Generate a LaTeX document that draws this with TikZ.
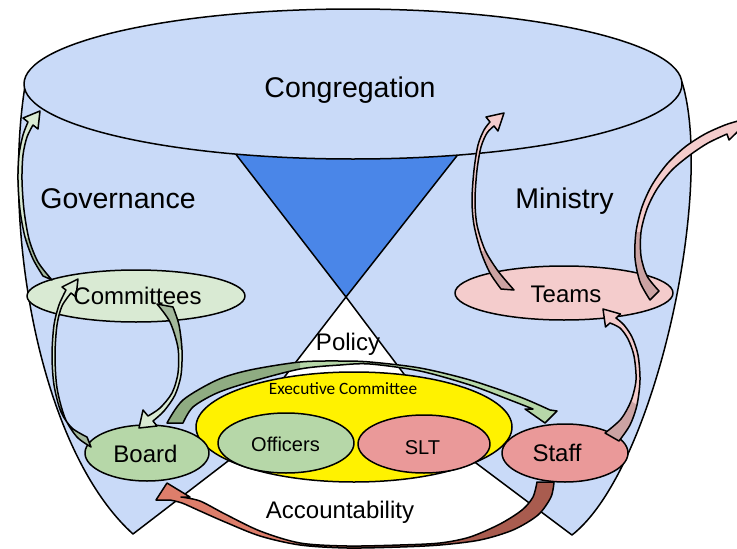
\documentclass[tikz,border=0pt]{standalone}
\usepackage{fontspec}
\setmainfont{Liberation Sans}
\newfontfamily\carlito{Carlito}
\usetikzlibrary{shapes.geometric}
\definecolor{bodyblue}{HTML}{C9DAF8}
\definecolor{triblue}{HTML}{4A86E8}
\definecolor{lgreen}{HTML}{D9EAD3}
\definecolor{mgreen}{HTML}{B6D7A8}
\definecolor{dgreen}{HTML}{8FAC82}
\definecolor{ggreen}{HTML}{A3B89C}
\definecolor{lpink}{HTML}{F4CCCC}
\definecolor{dpink}{HTML}{CBA3A3}
\definecolor{mred}{HTML}{EA9999}
\definecolor{lred}{HTML}{DD7E6B}
\definecolor{dred}{HTML}{A95C4F}
\begin{document}
\begin{tikzpicture}[x=1pt,y=-1pt,line width=1.5pt,line join=round,
  oval/.style={ellipse,draw=black,inner sep=0pt},
  big/.style={inner sep=0pt,text depth=0pt,text height=20.4pt,font=\fontsize{28.5}{30}\selectfont},
  mid/.style={inner sep=0pt,text depth=0pt,text height=17.2pt,font=\fontsize{24}{26}\selectfont},
  small/.style={inner sep=0pt,text depth=0pt,text height=14.3pt,font=\fontsize{20}{22}\selectfont}]
\useasboundingbox (0,0) rectangle (737,549);
\begin{scope}
\clip (0,0) rectangle (737,549);
% body
\draw[fill=bodyblue] (25,86) .. controls (2,230) and (40,450) .. (133,534)
  -- (232,458) -- (300,430) -- (410,430) -- (472,460) -- (572,535)
  .. controls (655,470) and (715,190) .. (682,82) -- cycle;
% blue triangle
\draw[fill=triblue] (232.6,150) -- (461.5,150) -- (346,297) -- cycle;
% top ellipse
\node[oval,fill=bodyblue,minimum width=658pt,minimum height=150pt] (cong) at (353,84) {};
% policy triangle
\draw[fill=white] (346,297) -- (259,410) -- (431,410) -- cycle;
% ellipses
\node[oval,fill=yellow,minimum width=316pt,minimum height=110pt] (exec) at (354,427) {};
\node[oval,fill=mgreen,minimum width=136pt,minimum height=60pt] (officers) at (286,443) {};
\node[oval,fill=mred,minimum width=132pt,minimum height=58pt] (slt) at (424,444) {};
\node[oval,fill=lgreen,minimum width=218pt,minimum height=52pt] (committees) at (136,296) {};
\node[oval,fill=lpink,minimum width=218pt,minimum height=54pt] (teams) at (564,293) {};
\node[oval,fill=mgreen,minimum width=124pt,minimum height=56pt] (board) at (147,453) {};
\node[oval,fill=mred,minimum width=126pt,minimum height=58pt] (staff) at (565,453) {};

% Arrow A: Board -> Staff
\fill[mgreen] plot[smooth] coordinates {(167,423) (183,400) (217,380) (250,370) (300,362) (340,361) (370,362) (420,368) (470,380) (520,397) (550,410)} -- (557,411) -- (545,423) -- (525,409) -- plot[smooth] coordinates {(533,409) (510,400) (470,385) (420,371) (370,364) (340,365) (300,369) (250,382) (217,393) (193,407) (183,423)} -- cycle;
\fill[dgreen] plot[smooth] coordinates {(167,423) (183,400) (217,380) (250,370) (300,362)} -- plot[smooth] coordinates {(300,369) (250,382) (217,393) (193,407) (183,423)} -- cycle;
\draw plot[smooth] coordinates {(167,423) (183,400) (217,380) (250,370) (300,362) (340,361) (370,362) (420,368) (470,380) (520,397) (550,410)} -- (557,411) -- (545,423) -- (525,409) -- plot[smooth] coordinates {(533,409) (510,400) (470,385) (420,371) (370,364) (340,365) (300,369) (250,382) (217,393) (193,407) (183,423)} -- cycle;

% Arrow B: Staff -> Board (accountability)
\fill[lred] plot[smooth] coordinates {(554,482) (551,497) (538,515) (513,530) (480,540) (440,545) (400,547) (347,548) (300,545) (260,536) (225,522) (200,511) (182,503) (170,500)} -- (156,500) -- (167,483) -- (190,497) -- plot[smooth] coordinates {(181,497) (200,501) (225,514) (260,531) (300,543) (347,546) (400,545) (440,543) (470,537) (500,524) (522,510) (533,497) (537,482)} -- cycle;
\fill[dred] plot[smooth] coordinates {(554,482) (551,497) (538,515) (513,530) (480,540) (440,545) (400,547) (347,548)} -- plot[smooth] coordinates {(347,546) (400,545) (440,543) (470,537) (500,524) (522,510) (533,497) (537,482)} -- cycle;
\draw plot[smooth] coordinates {(554,482) (551,497) (538,515) (513,530) (480,540) (440,545) (400,547) (347,548) (300,545) (260,536) (225,522) (200,511) (182,503) (170,500)} -- (156,500) -- (167,483) -- (190,497) -- plot[smooth] coordinates {(181,497) (200,501) (225,514) (260,531) (300,543) (347,546) (400,545) (440,543) (470,537) (500,524) (522,510) (533,497) (537,482)} -- cycle;

% Arrow C: Board -> Committees
\fill[lgreen] plot[smooth] coordinates {(87,437) (72,428) (61,412) (54,385) (52,355) (54,325) (59,305) (66,290)} -- (62,287) -- (78,279) -- (76,297) -- plot[smooth] coordinates {(71,293) (62,306) (57,325) (55,355) (57,388) (65,418) (77,437) (91,447)} -- cycle;
\fill[ggreen] plot[smooth] coordinates {(87,437) (72,428) (61,412)} -- plot[smooth] coordinates {(65,418) (77,437) (91,447)} -- cycle;
\draw plot[smooth] coordinates {(87,437) (72,428) (61,412) (54,385) (52,355) (54,325) (59,305) (66,290)} -- (62,287) -- (78,279) -- (76,297) -- plot[smooth] coordinates {(71,293) (62,306) (57,325) (55,355) (57,388) (65,418) (77,437) (91,447)} -- cycle;

% Arrow D: Committees -> Board
\fill[lgreen] plot[smooth] coordinates {(173,307) (179,325) (182,350) (181,375) (175,395) (164,411) (153,421)} -- (157,426) -- (139,428) -- (143,410) -- plot[smooth] coordinates {(148,416) (160,408) (172,393) (178,373) (178,348) (170,322) (157,304)} -- cycle;
\fill[ggreen] plot[smooth] coordinates {(173,307) (179,325) (182,350)} -- plot[smooth] coordinates {(178,348) (170,322) (157,304)} -- cycle;
\draw plot[smooth] coordinates {(173,307) (179,325) (182,350) (181,375) (175,395) (164,411) (153,421)} -- (157,426) -- (139,428) -- (143,410) -- plot[smooth] coordinates {(148,416) (160,408) (172,393) (178,373) (178,348) (170,322) (157,304)} -- cycle;

% Arrow E: Committees -> Congregation
\fill[lgreen] plot[smooth] coordinates {(43,276) (33,259) (25,237) (20,210) (18,180) (19,155) (23,135) (28,122)} -- (23,118) -- (40,111) -- (38,129) -- plot[smooth] coordinates {(33,125) (27,137) (23,155) (22,180) (24,210) (29,239) (38,262) (52,280)} -- cycle;
\fill[ggreen] plot[smooth] coordinates {(43,276) (33,259) (25,237)} -- plot[smooth] coordinates {(29,239) (38,262) (52,280)} -- cycle;
\draw plot[smooth] coordinates {(43,276) (33,259) (25,237) (20,210) (18,180) (19,155) (23,135) (28,122)} -- (23,118) -- (40,111) -- (38,129) -- plot[smooth] coordinates {(33,125) (27,137) (23,155) (22,180) (24,210) (29,239) (38,262) (52,280)} -- cycle;

% Arrow F: Teams -> Congregation
\fill[lpink] plot[smooth] coordinates {(501,289) (490,273) (481,252) (474,225) (472,200) (474,170) (478,145) (484,130) (490,122)} -- (486,117) -- (504,113) -- (498,131) -- plot[smooth] coordinates {(494,126) (487,133) (481,147) (477,170) (475,200) (477,225) (485,250) (498,271) (514,290)} -- cycle;
\fill[dpink] plot[smooth] coordinates {(501,289) (490,273) (481,252)} -- plot[smooth] coordinates {(485,250) (498,271) (514,290)} -- cycle;
\draw plot[smooth] coordinates {(501,289) (490,273) (481,252) (474,225) (472,200) (474,170) (478,145) (484,130) (490,122)} -- (486,117) -- (504,113) -- (498,131) -- plot[smooth] coordinates {(494,126) (487,133) (481,147) (477,170) (475,200) (477,225) (485,250) (498,271) (514,290)} -- cycle;

% Arrow G: Teams -> outward
\fill[lpink] plot[smooth] coordinates {(650,300) (640,282) (635,258) (636,232) (642,207) (652,185) (667,164) (685,147) (705,134) (725,125) (738,121)} -- (745,118) -- (760,110) -- (729,140) -- plot[smooth] coordinates {(727,134) (708,143) (690,155) (672,170) (657,189) (647,209) (641,232) (641,256) (647,276) (659,291)} -- cycle;
\fill[dpink] plot[smooth] coordinates {(650,300) (640,282) (635,258) (636,232)} -- plot[smooth] coordinates {(641,232) (641,256) (647,276) (659,291)} -- cycle;
\draw plot[smooth] coordinates {(650,300) (640,282) (635,258) (636,232) (642,207) (652,185) (667,164) (685,147) (705,134) (725,125) (738,121)} -- (745,118) -- (760,110) -- (729,140) -- plot[smooth] coordinates {(727,134) (708,143) (690,155) (672,170) (657,189) (647,209) (641,232) (641,256) (647,276) (659,291)} -- cycle;

% Arrow H: Staff -> Teams
\fill[lpink] plot[smooth] coordinates {(619,441) (630,425) (637,405) (640,380) (638,355) (632,337) (624,325) (616,318)} -- (620.5,314) -- (603,309) -- (605.5,327) -- plot[smooth] coordinates {(610,323) (620,328) (628,339) (634,356) (636,380) (631,401) (621,419) (605,433)} -- cycle;
\fill[dpink] plot[smooth] coordinates {(619,441) (630,425) (637,405)} -- plot[smooth] coordinates {(631,401) (621,419) (605,433)} -- cycle;
\draw plot[smooth] coordinates {(619,441) (630,425) (637,405) (640,380) (638,355) (632,337) (624,325) (616,318)} -- (620.5,314) -- (603,309) -- (605.5,327) -- plot[smooth] coordinates {(610,323) (620,328) (628,339) (634,356) (636,380) (631,401) (621,419) (605,433)} -- cycle;
\end{scope}

% texts
\node[big] (tCong) at (350,87.5) {Congregation};
\node[big] (tGov) at (118,198) {Governance};
\node[big] (tMin) at (564.5,198) {Ministry};
\node[mid] (tPolicy) at (348,341.5) {Policy};
\node[mid] (tAcc) at (340,509.5) {Accountability};
\node[mid] (tCom) at (137.5,296) {Committees};
\node[mid] (tTeams) at (566,293.5) {Teams};
\node[mid] (tBoard) at (145.5,454) {Board};
\node[mid] (tStaff) at (557,453) {Staff};
\node[small] (tOff) at (285.5,444.5) {Officers};
\node[small] (tSLT) at (422.5,447) {SLT};
\node[inner sep=0pt,text height=11pt,text depth=0pt,font=\carlito\fontsize{17.3}{18}\selectfont] (tExec) at (343,388.5) {Executive Committee};
\end{tikzpicture}
\end{document}
